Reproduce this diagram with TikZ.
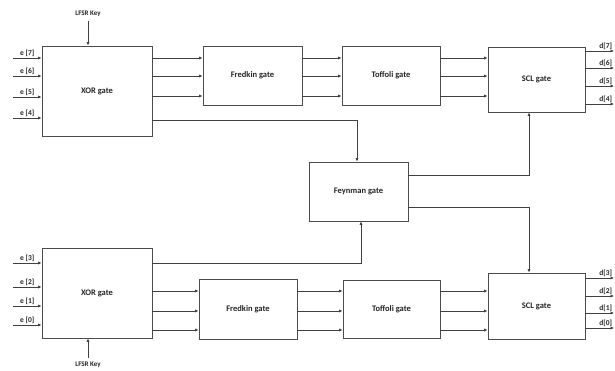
\documentclass[tikz,border=0pt]{standalone}
\usepackage{fontspec}
\setmainfont{Carlito}
\usetikzlibrary{arrows.meta}
\begin{document}
\begin{tikzpicture}[x=1pt, y=-1pt, line width=0.9pt,
  every node/.style={font=\fontsize{8.5}{10}\selectfont\bfseries, text=black!85},
  gatebox/.style={draw=black!70, fill=white, inner sep=0pt},
  arr/.style={draw=black!75, -{Latex[length=3.5pt,width=3.2pt]}},
  pin/.style={font=\fontsize{7.5}{8}\selectfont\bfseries, above, inner sep=1pt}]
  \useasboundingbox (0,0) rectangle (615,371);
  % gates
  \node[gatebox, minimum width=110pt, minimum height=90pt] (xorA) at (97,91) {XOR gate};
  \node[gatebox, minimum width=99pt, minimum height=59pt] (fredA) at (252.5,75.5) {Fredkin gate};
  \node[gatebox, minimum width=98pt, minimum height=59pt] (toffA) at (391,75.5) {Toffoli gate};
  \node[gatebox, minimum width=97pt, minimum height=65pt] (sclA) at (536.5,79.5) {SCL gate};
  \node[gatebox, minimum width=99pt, minimum height=59pt] (feyn) at (358.5,191.5) {Feynman gate};
  \node[gatebox, minimum width=110pt, minimum height=90pt] (xorB) at (97,293) {XOR gate};
  \node[gatebox, minimum width=98pt, minimum height=60pt] (fredB) at (248,309) {Fredkin gate};
  \node[gatebox, minimum width=97pt, minimum height=58pt] (toffB) at (391.5,309) {Toffoli gate};
  \node[gatebox, minimum width=97pt, minimum height=66pt] (sclB) at (536.5,306) {SCL gate};
  % keys
  \node[font=\fontsize{7}{8}\selectfont\bfseries] (keyA) at (88,14) {LFSR Key};
  \node[font=\fontsize{7}{8}\selectfont\bfseries] (keyB) at (88,365) {LFSR Key};
  \draw[arr] (keyA.south) -- (xorA.north -| keyA.south);
  \draw[arr] (keyB.north) -- (xorB.south -| keyB.north);
  % inputs
  \foreach \y/\t in {58/7,76/6,97/5,118/4} {
    \coordinate (inA\t) at (13,\y);
    \draw[arr] (inA\t) -- node[pin] {e [\t]} (inA\t -| xorA.west);
  }
  \foreach \y/\t in {263/3,287/2,306/1,325/0} {
    \coordinate (inB\t) at (13,\y);
    \draw[arr] (inB\t) -- node[pin] {e [\t]} (inB\t -| xorB.west);
  }
  % top chain
  \foreach \y in {58,76,96} {
    \draw[arr] (xorA.east |- 0,\y) -- (fredA.west |- 0,\y);
    \draw[arr] (fredA.east |- 0,\y) -- (toffA.west |- 0,\y);
    \draw[arr] (toffA.east |- 0,\y) -- (sclA.west |- 0,\y);
  }
  % bottom chain
  \foreach \y in {291,311,330} {
    \draw[arr] (xorB.east |- 0,\y) -- (fredB.west |- 0,\y);
    \draw[arr] (fredB.east |- 0,\y) -- (toffB.west |- 0,\y);
    \draw[arr] (toffB.east |- 0,\y) -- (sclB.west |- 0,\y);
  }
  % feynman links
  \draw[arr] (xorA.east |- 0,120) -| (feyn.north -| 357,0);
  \draw[arr] (xorB.east |- 0,263) -| (feyn.south -| 361,0);
  \draw[arr] (feyn.east |- 0,175) -| (sclA.south -| 529,0);
  \draw[arr] (feyn.east |- 0,207) -| (sclB.north -| 529,0);
  % outputs
  \foreach \y/\t in {51/7,68/6,86/5,104/4} {
    \coordinate (outA\t) at (614,\y);
    \draw[arr] (sclA.east |- outA\t) -- (outA\t) node[pin, midway, xshift=6pt] {d[\t]};
  }
  \foreach \y/\t in {278/3,296/2,313/1,328/0} {
    \coordinate (outB\t) at (614,\y);
    \draw[arr] (sclB.east |- outB\t) -- (outB\t) node[pin, midway, xshift=6pt] {d[\t]};
  }
\end{tikzpicture}
\end{document}
